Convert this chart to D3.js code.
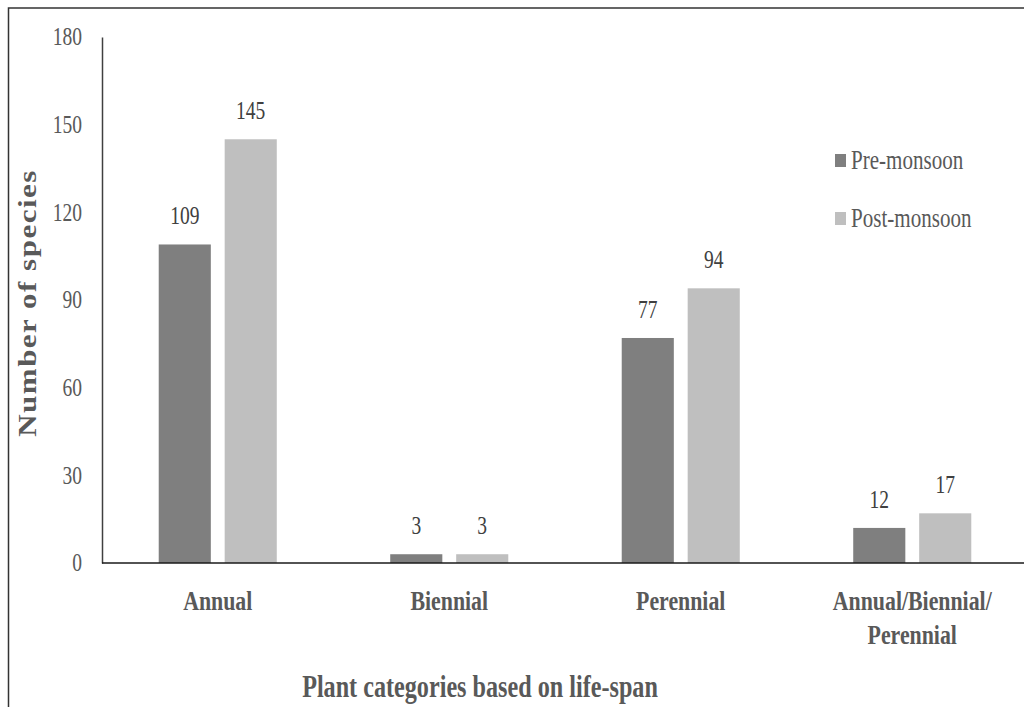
<!DOCTYPE html>
<html lang="en">
<head>
    <meta charset="UTF-8">
    <title>Plant categories based on life-span</title>
    <script src="https://d3js.org/d3.v7.min.js"></script>
    <style>
        body { margin: 0; background: #fff; }
        svg { display: block; }
        text { font-family: "Liberation Serif", "Times New Roman", serif; }
    </style>
</head>
<body>
    <svg id="chart"></svg>
    <script>
        const width = 1024, height = 707;

        // data
        const categories = ["Annual", "Biennial", "Perennial", "Annual/Biennial/Perennial"];
        const categoryLines = [["Annual"], ["Biennial"], ["Perennial"], ["Annual/Biennial/", "Perennial"]];
        const series = ["Pre-monsoon", "Post-monsoon"];
        const preMonsoon = [109, 3, 77, 12];
        const postMonsoon = [145, 3, 94, 17];
        const yTicks = [0, 30, 60, 90, 120, 150, 180];
        const colors = ["#7f7f7f", "#bfbfbf"];

        const SQ = 0.78; // text in the picture is squashed horizontally

        const svg = d3.select("#chart").attr("width", width).attr("height", height);

        // frame
        svg.append("path")
            .attr("d", `M8.5,${height} L8.5,8 L${width},8`)
            .attr("fill", "none").attr("stroke", "#333").attr("stroke-width", 1.5);

        const x0 = d3.scaleBand().domain(categories).range([102, 1028]);
        const x1 = d3.scaleBand().domain(series).range([0, x0.bandwidth()])
            .paddingInner(0.21).paddingOuter(0.86);
        const y = d3.scaleLinear().domain([0, 180]).range([563, 37]);

        function sqText(g, x, yy) {
            return g.append("text").attr("transform", `translate(${x},${yy}) scale(${SQ},1)`);
        }

        // y axis
        const yAxis = svg.append("g").attr("transform", "translate(102,0)")
            .call(d3.axisLeft(y).tickValues(yTicks).tickSize(0).tickFormat(d3.format("d")));
        yAxis.select(".domain").attr("stroke", "#404040").attr("stroke-width", 1.5);
        yAxis.selectAll(".tick text").remove();
        yTicks.forEach(t => {
            sqText(svg, 82, y(t))
                .attr("text-anchor", "end").attr("dy", "0.33em")
                .attr("font-size", 25).attr("fill", "#595959").text(t);
        });

        // bars
        const rows = categories.map((c, i) => ({ cat: c, vals: [preMonsoon[i], postMonsoon[i]] }));
        const groups = svg.selectAll(".grp").data(rows).join("g")
            .attr("class", "grp")
            .attr("transform", d => `translate(${x0(d.cat)},0)`);
        groups.selectAll("rect")
            .data(d => d.vals.map((v, j) => ({ s: series[j], v, j })))
            .join("rect")
            .attr("x", d => x1(d.s)).attr("width", x1.bandwidth())
            .attr("y", d => y(d.v)).attr("height", d => y(0) - y(d.v))
            .attr("fill", d => colors[d.j]);
        groups.each(function (d) {
            const g = d3.select(this);
            d.vals.forEach((v, j) => {
                sqText(g, x1(series[j]) + x1.bandwidth() / 2, y(v) - 20)
                    .attr("text-anchor", "middle").attr("font-size", 25)
                    .attr("fill", "#404040").text(v);
            });
        });

        // x axis
        svg.append("line")
            .attr("x1", 102).attr("x2", 1028).attr("y1", y(0)).attr("y2", y(0))
            .attr("stroke", "#1a1a1a").attr("stroke-width", 1.6);

        categories.forEach((c, i) => {
            const cx = x0(c) + x0.bandwidth() / 2;
            categoryLines[i].forEach((line, k) => {
                sqText(svg, cx, 610 + k * 34)
                    .attr("text-anchor", "middle").attr("font-size", 28)
                    .attr("font-weight", "bold").attr("fill", "#595959").text(line);
            });
        });

        // axis titles
        sqText(svg, 480, 697)
            .attr("text-anchor", "middle").attr("font-size", 31)
            .attr("font-weight", "bold").attr("fill", "#595959")
            .text("Plant categories based on life-span");

        svg.append("text")
            .attr("transform", `translate(36,303) scale(${SQ},1) rotate(-90)`)
            .attr("text-anchor", "middle").attr("font-size", 31)
            .attr("font-weight", "bold").attr("fill", "#595959")
            .attr("letter-spacing", 1.5)
            .text("Number of species");

        // legend
        const legend = svg.append("g");
        series.forEach((s, i) => {
            const ly = 169 + i * 58;
            legend.append("rect")
                .attr("x", 835).attr("y", ly - 15).attr("width", 11).attr("height", 13)
                .attr("fill", colors[i]);
            sqText(legend, 851, ly)
                .attr("font-size", 27).attr("fill", "#595959").text(s);
        });
    </script>
</body>
</html>
